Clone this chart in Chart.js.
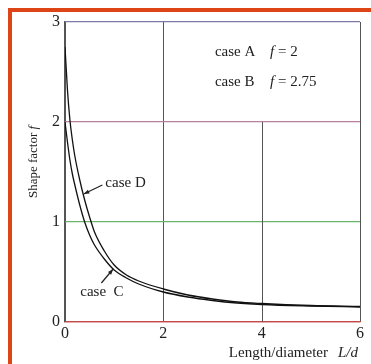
<!DOCTYPE html>
<html>
<head>
<meta charset="utf-8">
<script src="https://cdn.jsdelivr.net/npm/chart.js@4/dist/chart.umd.min.js"></script>
<style>
  body { margin: 0; background: #fff; }
  .frame { position: absolute; left: 8px; top: 8px; width: 380px; height: 380px; border: 4px solid #dd4416; box-sizing: border-box; }
  .wrap { position: absolute; left: 0; top: 0; width: 371px; height: 364px; }
</style>
</head>
<body>
<div class="frame"></div>
<div class="wrap"><canvas id="myChart" width="371" height="364"></canvas></div>
<script>
// L/d values and shape factor for the two curves
const lengthRatio = [0, 0.05, 0.1, 0.15, 0.2, 0.3, 0.4, 0.5, 0.6, 0.8, 1.0, 1.25, 1.5, 2.0, 2.5, 3.0, 3.5, 4.0, 5.0, 6.0];
const caseD = [2.75, 2.32, 2.02, 1.82, 1.66, 1.42, 1.22, 1.05, 0.9, 0.71, 0.57, 0.47, 0.41, 0.33, 0.27, 0.23, 0.2, 0.185, 0.165, 0.155];
const caseC = [2.0, 1.8, 1.62, 1.48, 1.37, 1.17, 1.0, 0.87, 0.77, 0.63, 0.52, 0.44, 0.38, 0.3, 0.25, 0.215, 0.19, 0.175, 0.16, 0.15];
const xTicks = [0, 2, 4, 6];
const yTicks = [0, 1, 2, 3];

const serif = '"Liberation Serif", "DejaVu Serif", serif';

const toPoints = (ys) => lengthRatio.map((x, i) => ({ x: x, y: ys[i] }));

// the x = 4 grid line stops at f = 2 (leaves room for the case A/B text)
const shortGrid = {
  id: 'shortGrid',
  beforeDatasetsDraw(chart) {
    const ctx = chart.ctx;
    const xs = chart.scales.x, ys = chart.scales.y;
    ctx.save();
    ctx.strokeStyle = '#555';
    ctx.lineWidth = 1;
    ctx.beginPath();
    ctx.moveTo(Math.round(xs.getPixelForValue(4)) + 0.5, ys.getPixelForValue(0));
    ctx.lineTo(Math.round(xs.getPixelForValue(4)) + 0.5, ys.getPixelForValue(2));
    ctx.stroke();
    ctx.restore();
  }
};

// text and arrows on top of the plot
const notes = {
  id: 'notes',
  afterDraw(chart) {
    const ctx = chart.ctx;
    const xs = chart.scales.x, ys = chart.scales.y;
    const X = (v) => xs.getPixelForValue(v), Y = (v) => ys.getPixelForValue(v);
    ctx.save();
    ctx.fillStyle = '#222';
    ctx.strokeStyle = '#222';
    ctx.textBaseline = 'middle';

    ctx.font = '15px ' + serif;
    ctx.textAlign = 'left';
    ctx.fillText('case A', X(3.05), Y(2.70));
    ctx.fillText('case B', X(3.05), Y(2.40));
    const fEq = (x, y, val) => {
      ctx.font = 'italic 15px ' + serif;
      ctx.fillText('f', x, y);
      const w = ctx.measureText('f').width;
      ctx.font = '15px ' + serif;
      ctx.fillText(' = ' + val, x + w, y);
    };
    fEq(X(4.17), Y(2.70), '2');
    fEq(X(4.17), Y(2.40), '2.75');

    ctx.fillText('case D', X(0.82), Y(1.39));
    ctx.fillText('case  C', X(0.31), Y(0.30));

    const arrow = (x1, y1, x2, y2) => {
      ctx.lineWidth = 1.2;
      ctx.beginPath();
      ctx.moveTo(x1, y1);
      ctx.lineTo(x2, y2);
      ctx.stroke();
      const a = Math.atan2(y2 - y1, x2 - x1);
      ctx.beginPath();
      ctx.moveTo(x2, y2);
      ctx.lineTo(x2 - 6 * Math.cos(a - 0.35), y2 - 6 * Math.sin(a - 0.35));
      ctx.lineTo(x2 - 6 * Math.cos(a + 0.35), y2 - 6 * Math.sin(a + 0.35));
      ctx.closePath();
      ctx.fill();
    };
    arrow(X(0.76), Y(1.37), X(0.38), Y(1.28));
    arrow(X(0.74), Y(0.39), X(0.98), Y(0.53));

    // axis titles
    ctx.textAlign = 'right';
    ctx.font = 'italic 15px ' + serif;
    ctx.fillText('L/d', X(6) - 2, 353);
    const ld = ctx.measureText('L/d').width;
    ctx.font = '15px ' + serif;
    ctx.fillText('Length/diameter', X(6) - 2 - ld - 10, 353);

    ctx.translate(34, Y(1.6));
    ctx.rotate(-Math.PI / 2);
    ctx.font = '13px ' + serif;
    const t1 = 'Shape factor ';
    const w1 = ctx.measureText(t1).width;
    ctx.font = 'italic 13px ' + serif;
    const w2 = ctx.measureText('f').width;
    ctx.textAlign = 'left';
    ctx.font = '13px ' + serif;
    ctx.fillText(t1, -(w1 + w2) / 2, 0);
    ctx.font = 'italic 13px ' + serif;
    ctx.fillText('f', -(w1 + w2) / 2 + w1, 0);
    ctx.restore();
  }
};

const hColors = { 0: '#c44a4a', 1: '#6cb46c', 2: '#b87f9e', 3: '#7c7aa8' };

new Chart(document.getElementById('myChart').getContext('2d'), {
  type: 'line',
  data: {
    datasets: [
      { label: 'case D', data: toPoints(caseD), borderColor: '#111', borderWidth: 1.3, pointRadius: 0, cubicInterpolationMode: 'monotone' },
      { label: 'case C', data: toPoints(caseC), borderColor: '#111', borderWidth: 1.3, pointRadius: 0, cubicInterpolationMode: 'monotone' }
    ]
  },
  options: {
    responsive: false,
    animation: false,
    layout: { padding: { left: 0, top: 22, right: 11, bottom: 0 } },
    plugins: { legend: { display: false }, tooltip: { enabled: false } },
    scales: {
      x: {
        type: 'linear', min: 0, max: 6,
        afterBuildTicks: (s) => { s.ticks = xTicks.map(v => ({ value: v })); },
        afterFit: (s) => { s.height = 42; },
        grid: { color: (c) => c.tick.value === 4 ? 'rgba(0,0,0,0)' : '#555', lineWidth: 1, drawTicks: false },
        border: { color: '#c44a4a', width: 1.2 },
        ticks: { padding: 2, color: '#222', font: { family: serif, size: 16 } }
      },
      y: {
        type: 'linear', min: 0, max: 3,
        afterBuildTicks: (s) => { s.ticks = yTicks.map(v => ({ value: v })); },
        afterFit: (s) => { s.width = 65; },
        grid: { color: (c) => hColors[c.tick.value] || '#888', lineWidth: 1.2, drawTicks: false },
        border: { color: '#555', width: 1.2 },
        ticks: { padding: 5, color: '#222', font: { family: serif, size: 16 } }
      }
    }
  },
  plugins: [shortGrid, notes]
});
</script>
</body>
</html>
